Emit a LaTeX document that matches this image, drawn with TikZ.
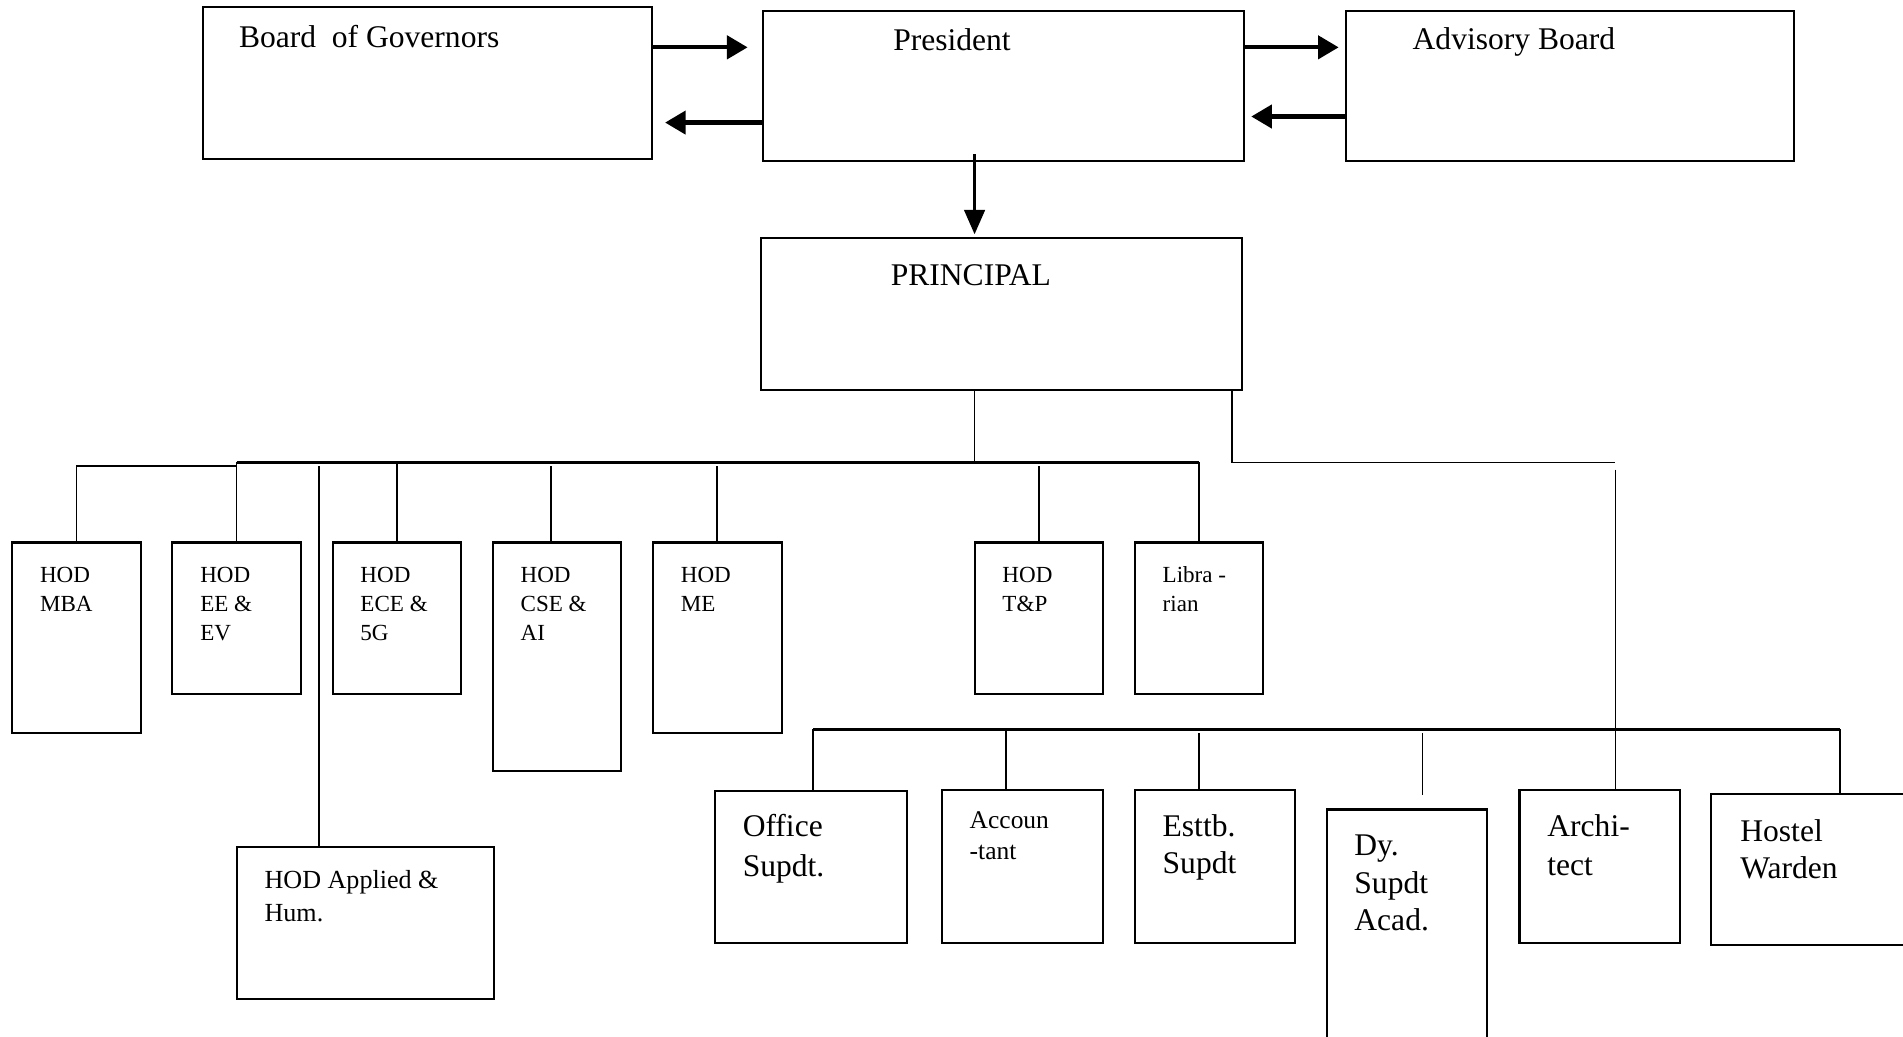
\documentclass[tikz,border=0pt]{standalone}
\usepackage{fontspec}
\setmainfont{Liberation Serif}
\usetikzlibrary{arrows.meta}
\newcommand\bt[7]{\parbox[c][#2pt][t]{#1pt}{\fontsize{#5}{#6}\selectfont\raggedright\leftskip=#3pt\relax\rule{0pt}{#4pt}#7\par}}
\begin{document}
\begin{tikzpicture}[x=1pt,y=-1pt,
  box/.style={draw, line width=1.7pt, inner sep=0pt, outer sep=0pt, anchor=north west},
  conn/.style={line width=1.3pt},
  bus/.style={line width=2pt},
  bigarrow/.style={line width=3.5pt, -{Triangle[length=17pt,width=19pt]}},
  downarrow/.style={line width=2pt, -{Triangle[length=20pt,width=17pt]}}]
\useasboundingbox (0,0) rectangle (1568,854);
\clip (0,0) rectangle (1568,854);
\fill[white] (0,0) rectangle (1568,854);
% top row
\node[box] (bog) at (167,6) {\bt{370}{125}{30}{33}{26}{32}{Board\ \ of Governors}};
\node[box] (pres) at (629,9) {\bt{396}{124}{107}{33}{26}{32}{President}};
\node[box] (adv) at (1109,9) {\bt{369}{124}{55}{32}{26}{32}{Advisory Board}};
\node[box] (prin) at (627,196) {\bt{396}{125}{107}{39}{26}{32}{PRINCIPAL}};
% HOD row
\node[box] (mba) at (10,447) {\bt{106}{157}{23}{33}{19}{24}{HOD\\MBA}};
\node[box] (eeev) at (142,447) {\bt{106}{125}{23}{33}{19}{24}{HOD\\EE \&\\EV}};
\node[box] (ece) at (274,447) {\bt{106}{125}{23}{33}{19}{24}{HOD\\ECE \&\\5G}};
\node[box] (cse) at (406,447) {\bt{106}{188}{23}{33}{19}{24}{HOD\\CSE \&\\AI}};
\node[box] (me) at (538,447) {\bt{106}{157}{23}{33}{19}{24}{HOD\\ME}};
\node[box] (tp) at (803,447) {\bt{106}{125}{23}{33}{19}{24}{HOD\\T\&P}};
\node[box] (lib) at (935,447) {\bt{106}{125}{23}{33}{19}{24}{Libra -\\rian}};
\node[box] (app) at (195,698) {\bt{212}{125}{23}{34}{21.5}{27}{HOD Applied \&\\Hum.}};
% lower row
\node[box] (off) at (589,652) {\bt{158}{125}{23}{37}{26}{33}{Office\\Supdt.}};
\node[box] (acc) at (776,651) {\bt{133}{126}{23}{32}{21}{25}{Accoun\\-tant}};
\node[box] (est) at (935,651) {\bt{132}{126}{23}{38}{26}{31}{Esttb.\\Supdt}};
\node[box] (dy) at (1093,667) {\bt{132}{230}{23}{38}{26}{31}{Dy.\\Supdt\\Acad.}};
\node[box] (arch) at (1252,651) {\bt{132}{126}{23}{38}{26}{32}{Archi-\\tect}};
\node[box] (host) at (1410,654) {\bt{190}{125}{24}{39}{26}{31}{Hostel\\Warden}};
% coordinates
\coordinate (a1) at (0,39);
\coordinate (a2) at (0,101);
\coordinate (a3) at (0,96);
\coordinate (b0) at (803,381);
\coordinate (bL) at (195,381);
\coordinate (bR) at (988,381);
\coordinate (bM) at (195,384);
\coordinate (bA) at (263,384);
\coordinate (bC) at (454,384);
\coordinate (r0) at (1015,381);
\coordinate (r1) at (1331,381);
\coordinate (r2) at (1331,387);
\coordinate (lL) at (670,601);
\coordinate (lR) at (1516,601);
\coordinate (jAcc) at (829,601);
\coordinate (jEst) at (988,604);
\coordinate (jDy) at (1172,604);
\coordinate (jDyE) at (1172,655);
% arrows
\draw[bigarrow, shorten >=13pt] (bog.east |- a1) -- (pres.west |- a1);
\draw[bigarrow, shorten >=11pt] (pres.west |- a2) -- (bog.east |- a2);
\draw[bigarrow, shorten >=6pt] (pres.east |- a1) -- (adv.west |- a1);
\draw[bigarrow, shorten >=6pt] (adv.west |- a3) -- (pres.east |- a3);
\draw[downarrow, shorten >=3pt, shorten <=-6pt] (pres.south -| b0) -- (prin.north -| b0);
% HOD tree
\draw[conn] (prin.south -| b0) -- (b0);
\draw[bus] (bL) -- (bR);
\draw[conn] (bM) -| (mba.north);
\draw[conn] (bL) -- (eeev.north);
\draw[conn] (bA) -- (bA |- app.north);
\draw[conn] (ece.north |- bL) -- (ece.north);
\draw[conn] (bC) -- (bC |- cse.north);
\draw[conn] (me.north |- bM) -- (me.north);
\draw[conn] (tp.north |- bM) -- (tp.north);
\draw[conn] (bR) -- (lib.north);
% staff tree
\draw[conn] (prin.south -| r0) -- (r0) -- (r1);
\draw[conn] (r2) -- (r2 |- arch.north);
\draw[bus] (lL) -- (lR);
\draw[conn] (lL) -- (lL |- off.north);
\draw[conn] (jAcc) -- (jAcc |- acc.north);
\draw[conn] (jEst) -- (jEst |- est.north);
\draw[conn] (jDy) -- (jDyE);
\draw[conn] (lR) -- (lR |- host.north);
\end{tikzpicture}
\end{document}
